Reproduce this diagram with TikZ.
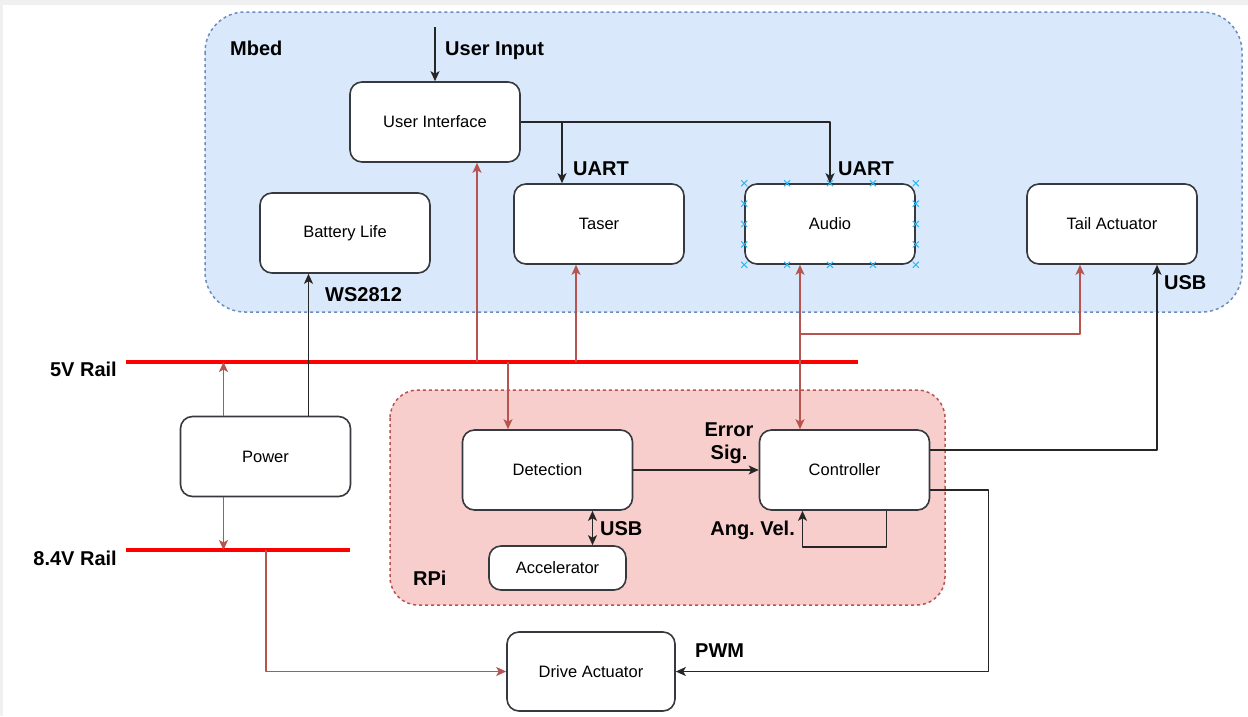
\documentclass[tikz,border=0pt]{standalone}
\usepackage{fontspec}
\setmainfont{Liberation Sans}
\usetikzlibrary{arrows.meta,calc,shapes.misc}
\definecolor{mbedfill}{HTML}{DAE8FC}
\definecolor{mbedline}{HTML}{6C8EBF}
\definecolor{rpifill}{HTML}{F8CECC}
\definecolor{rpiline}{HTML}{B85450}
\definecolor{boxline}{HTML}{36393D}
\definecolor{selmark}{HTML}{29B6F2}
\frenchspacing
\tikzset{
	block/.style={draw=boxline, line width=1.6pt, fill=white, rounded corners=12pt,
		minimum width=170pt, minimum height=80pt, inner sep=0pt, font=\fontsize{16.5}{19}\selectfont},
	lbl/.style={font=\fontsize{20}{23}\selectfont\bfseries, inner sep=0pt},
	sig/.style={draw=black!85, line width=1.6pt, ->},
	pw/.style={draw=rpiline, line width=1.6pt, ->},
	rail/.style={draw=red, line width=4pt},
	xmark/.style={cross out, draw=selmark, line width=1pt, minimum size=5pt, inner sep=0pt},
}
\begin{document}
\begin{tikzpicture}[x=1pt, y=-1pt, >={Stealth[length=10pt,width=9pt,inset=2.5pt]}, line join=round]
	\useasboundingbox (0,0) rectangle (1248,716);
	\fill[black!6] (0,0) rectangle (1248,716);
	\fill[white] (3,5) rectangle (1248,716);
	% containers
	\draw[mbedline, fill=mbedfill, line width=1.5pt, dash pattern=on 3pt off 3pt, rounded corners=40pt]
		(205,12) rectangle (1242,312);
	\draw[rpiline, fill=rpifill, line width=1.5pt, dash pattern=on 3pt off 3pt, rounded corners=28pt]
		(390,390) rectangle (945,605);
	\node[lbl, anchor=west] (mbed) at (230,48) {Mbed};
	\node[lbl, anchor=west] (rpi) at (413,578) {RPi};
	% rails
	\path
		(126,362) coordinate (r5a)
		(858,362) coordinate (r5b)
		(126,550) coordinate (r84a)
		(350,550) coordinate (r84b)
		;
	\draw[rail] (r5a) -- (r5b);
	\draw[rail] (r84a) -- (r84b);
	\node[lbl, anchor=east] (r5lbl) at (117,369) {5V Rail};
	\node[lbl, anchor=east] (r84lbl) at (117,558) {8.4V Rail};
	% blocks
	\node[block] (UI) at (435,122) {User Interface};
	\node[block] (Batt) at (345,233) {Battery Life};
	\node[block] (Taser) at (599,224) {Taser};
	\node[block] (Audio) at (830,224) {Audio};
	\node[block] (Tail) at (1112,224) {Tail Actuator};
	\node[block] (Pow) at (265.5,456.5) {Power};
	\node[block] (Det) at (547.5,470) {Detection};
	\node[block] (Ctrl) at (844.5,470) {Controller};
	\node[block, minimum width=137pt, minimum height=44pt] (Acc) at (557.5,568) {Accelerator};
	\node[block, minimum width=168pt, minimum height=79pt] (Drive) at (591,671.5) {Drive Actuator};
	% selection marks on Audio
	\foreach \t in {0,0.25,...,1} {
		\node[xmark] at ($(Audio.north west)!\t!(Audio.north east)$) {};
		\node[xmark] at ($(Audio.south west)!\t!(Audio.south east)$) {};
	}
	\foreach \t in {0.25,0.5,0.75} {
		\node[xmark] at ($(Audio.north west)!\t!(Audio.south west)$) {};
		\node[xmark] at ($(Audio.north east)!\t!(Audio.south east)$) {};
	}
	% signal lines
	\path
		(435,27) coordinate (uin)
		(562,122) coordinate (uart)
		;
	\draw[sig] (uin) -- (UI.north);
	\node[lbl, anchor=west] (uinlbl) at (445,51) {User Input};
	\draw[sig] (UI.east) -| (Audio.north);
	\draw[sig] (uart) -- (uart |- Taser.north);
	\node[lbl, anchor=west] (uart1) at (573,169) {UART};
	\node[lbl, anchor=west] (uart2) at (838,169) {UART};
	\draw[sig] ([xshift=43pt]Pow.north) -- ([xshift=43pt]Pow.north |- Batt.south);
	\node[lbl, anchor=west] (ws) at (325,295) {WS2812};
	\draw[sig] (Det.east) -- (Ctrl.west);
	\node[lbl, align=center] (err) at (729,443) {Error\\Sig.};
	\draw[sig, <->] ([xshift=45pt]Det.south) -- ([xshift=45pt]Det.south |- Acc.north);
	\node[lbl, anchor=west] (usb1) at (600,529) {USB};
	\draw[sig] ([xshift=42pt]Ctrl.south) -- ++(0,36) -| ([xshift=-42pt]Ctrl.south);
	\node[lbl, anchor=east] (ang) at (795,530) {Ang. Vel.};
	\draw[sig] ([yshift=20pt]Ctrl.east) -| ([xshift=45pt]Tail.south);
	\node[lbl, anchor=west] (usb2) at (1164,283) {USB};
	\draw[sig] ([yshift=-20pt]Ctrl.east) -- ++(58,0) |- (Drive.east);
	\node[lbl, anchor=west] (pwm) at (695,651) {PWM};
	% power lines
	\path
		(477,362) coordinate (r5ui)
		(576,362) coordinate (r5tas)
		(508,362) coordinate (r5det)
		(266,550) coordinate (r84d)
		(800,334) coordinate (tee)
		;
	\draw[pw] ([xshift=-42pt]Pow.north) -- ([xshift=-42pt]Pow.north |- r5a);
	\draw[pw] ([xshift=-42pt]Pow.south) -- ([xshift=-42pt]Pow.south |- r84a);
	\draw[pw] (r5ui) -- (r5ui |- UI.south);
	\draw[pw] (r5tas) -- (r5tas |- Taser.south);
	\draw[pw] (r5det) -- (r5det |- Det.north);
	\draw[pw] (r84d) |- (Drive.west);
	\draw[pw, <->] ([xshift=-30pt]Audio.south) -- ([xshift=-30pt]Audio.south |- Ctrl.north);
	\draw[pw] (tee) -| ([xshift=-32pt]Tail.south);
\end{tikzpicture}
\end{document}
